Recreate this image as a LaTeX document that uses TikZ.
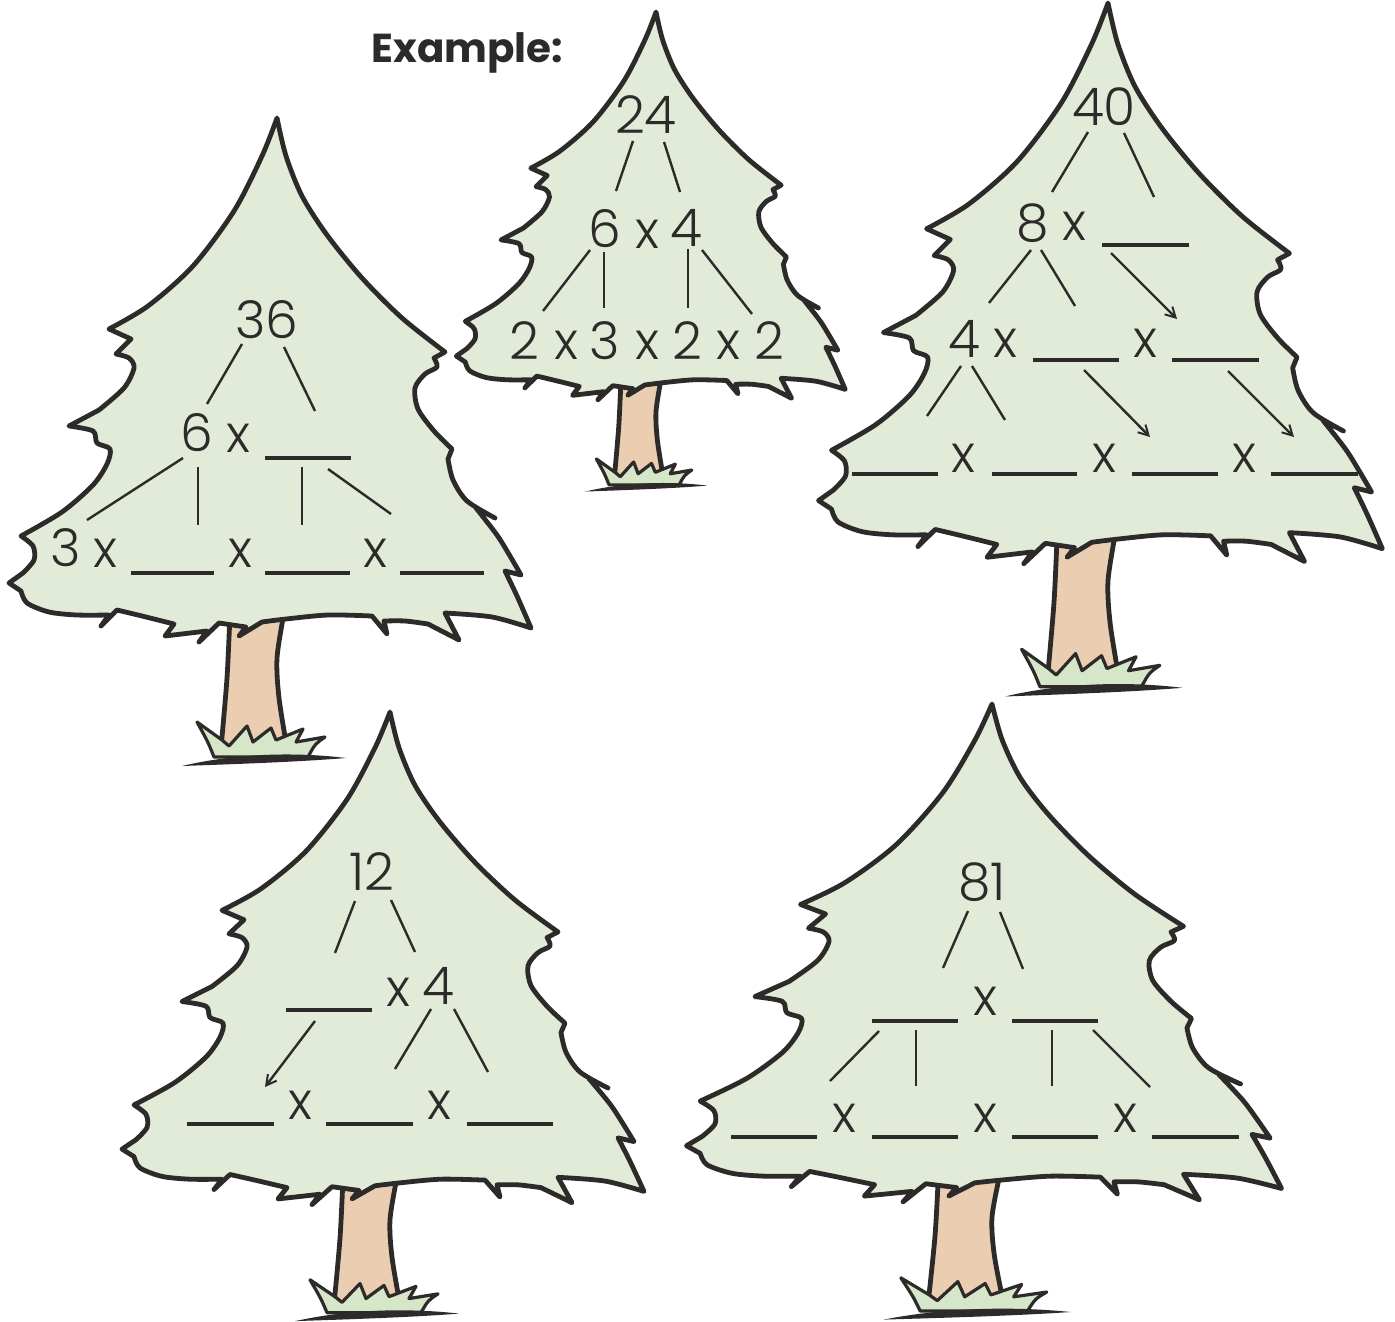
\documentclass[tikz,border=0pt]{standalone}
\usepackage{fontspec}
\usetikzlibrary{arrows.meta}
\IfFontExistsTF{Poppins Light}{\newfontfamily\figfont{Poppins Light}}{\newfontfamily\figfont{Poppins}}
\newfontfamily\headfont{Poppins}

\definecolor{ink}{RGB}{45,42,42}
\definecolor{needles}{RGB}{225,235,216}
\definecolor{bark}{RGB}{235,206,177}
\definecolor{turf}{RGB}{214,230,201}

\tikzset{
  outline/.style={draw=ink, line width=2.4pt, line join=round, line cap=round},
  fig/.style={font=\figfont\fontsize{26}{30}\selectfont, text=ink, inner sep=0pt},
  branch/.style={draw=ink, line width=1.2pt},
  pointer/.style={branch, -{Straight Barb[length=5pt,width=5.5pt,line width=1pt]}},
  blankline/.style={draw=ink, line width=1.6pt},
}

% crown of a fir, apex at the origin (units: one pixel of the 36-tree)
\newcommand\crownoutline{
plot[smooth] coordinates {(0,0) (9,38) (25,78) (50,117) (85,160) (125,200) (168,234)}
-- (157,240)
-- plot[smooth] coordinates {(157,240) (160,249) (148,256) (138,270) (141,291) (157,313) (175,331)}
-- (171,341)
-- plot[smooth] coordinates {(171,341) (176,362) (190,383) (218,400)}
-- (199,390)
-- plot[smooth] coordinates {(199,390) (220,417) (233,438) (244,457)}
-- (228,453)
-- plot[smooth] coordinates {(228,453) (240,478) (254,510)}
-- plot[smooth] coordinates {(254,510) (215,499) (168,495)}
-- (182,522) -- (151,506)
-- plot[smooth] coordinates {(151,506) (128,503) (107,503)}
-- (110,516) -- (95,498)
-- plot[smooth] coordinates {(95,498) (51,497) (9,501) (-15,504)}
-- (-38,518) -- (-31,509) -- (-58,505) -- (-78,524) -- (-70,513) -- (-112,518) -- (-103,506)
-- plot[smooth] coordinates {(-103,506) (-135,498) (-160,492)}
-- (-176,508) -- (-168,497)
-- plot[smooth] coordinates {(-168,497) (-200,497) (-228,494) (-250,485) (-256,473)}
-- (-268,465) -- (-254,455)
-- plot[smooth] coordinates {(-254,455) (-243,442) (-244,428) (-256,418)}
-- plot[smooth] coordinates {(-256,418) (-215,394) (-184,367) (-170,346) (-167,331) (-180,325) (-184,313) (-208,308)}
-- (-178,292)
-- plot[smooth] coordinates {(-178,292) (-153,270) (-143,250) (-148,240) (-161,236)}
-- (-146,221) -- (-168,211)
-- plot[smooth] coordinates {(-168,211) (-129,188) (-84,148) (-43,93) (-15,38) (0,0)}
-- cycle}

% a whole tree: apex x, apex y, horizontal and vertical scale
\newcommand\fir[4]{%
\begin{scope}[shift={(#1,#2)},xscale=#3,yscale=#4]
  \fill[bark] plot[smooth] coordinates {(-47,495) (-50,560) (-56,632)}
     -- plot[smooth] coordinates {(10,632) (2,580) (0,540) (7,495)} -- cycle;
  \draw[outline] plot[smooth] coordinates {(-47,495) (-50,560) (-56,630)};
  \draw[outline] plot[smooth] coordinates {(10,630) (2,580) (0,540) (7,495)};
  \filldraw[outline, fill=needles] \crownoutline;
  \filldraw[outline, fill=turf, line width=1.6pt]
     (-63,639) .. controls (-69,624) .. (-80,604) -- (-55,622) -- (-48,628) -- (-30,608)
     -- (-24,624) -- (-6,610) -- (-1,622) -- (26,611) -- (19,624) -- (48,619)
     .. controls (38,626) .. (31,639) -- cycle;
  \fill[ink] (-95,648) .. controls (-40,635) and (20,634) .. (69,640)
     .. controls (20,644) and (-40,646) .. cycle;
\end{scope}}

\newcommand\seg[3]{\coordinate (#1-a) at (#2); \coordinate (#1-b) at (#3); \draw[branch] (#1-a) -- (#1-b);}
\newcommand\arr[3]{\coordinate (#1-a) at (#2); \coordinate (#1-b) at (#3); \draw[pointer] (#1-a) -- (#1-b);}
\newcommand\gap[3]{\draw[blankline] (#1,#3) -- (#2,#3);}

\begin{document}
\begin{tikzpicture}[x=0.5pt,y=-0.5pt]
\useasboundingbox (0,0) rectangle (1395,1321);
\fill[white] (0,0) rectangle (1395,1321);

\fir{656}{12}{0.745}{0.74}
\fir{277}{118}{1}{1}
\fir{1108}{3}{1.08}{1.07}
\fir{390}{712}{1}{0.94}
\fir{992}{704}{1.14}{0.95}

\node[font=\headfont\bfseries\fontsize{20.2}{24}\selectfont, text=ink, anchor=base west, inner sep=0pt] (example) at (371,63) {Example:};

% worked example: 24
\node[fig] (a24) at (646,115) {24};
\seg{a1}{633,141}{616,191}
\seg{a2}{664,142}{680,192}
\node[fig] (a6) at (605,229) {6};
\node[fig] (ax1) at (647,234) {x};
\node[fig] (a4) at (686,228) {4};
\seg{a3}{590,250}{543,311}
\seg{a4}{604,252}{604,308}
\seg{a5}{688,249}{688,308}
\seg{a6}{702,250}{752,314}
\node[fig] (ab1) at (524,341) {2};
\node[fig] (ax2) at (566,345) {x};
\node[fig] (ab2) at (605,341) {3};
\node[fig] (ax3) at (647,345) {x};
\node[fig] (ab3) at (687,341) {2};
\node[fig] (ax4) at (728,345) {x};
\node[fig] (ab4) at (769,341) {2};

% 36
\node[fig] (b36) at (267,320) {36};
\seg{b1}{242,344}{207,404}
\seg{b2}{284,347}{315,411}
\node[fig] (b6) at (197,433) {6};
\node[fig] (bx1) at (238,438) {x};
\gap{265}{351}{458}
\seg{b3}{183,458}{87,520}
\seg{b4}{198,467}{198,525}
\seg{b5}{302,467}{302,525}
\seg{b6}{328,469}{391,514}
\node[fig] (b3) at (66,548) {3};
\node[fig] (bx2) at (105,553) {x};
\gap{131}{214}{573}
\node[fig] (bx3) at (240,553) {x};
\gap{265}{350}{573}
\node[fig] (bx4) at (375,553) {x};
\gap{400}{484}{573}

% 40
\node[fig] (c40) at (1104,107) {40};
\seg{c1}{1088,132}{1052,192}
\seg{c2}{1124,133}{1154,197}
\node[fig] (c8) at (1033,223) {8};
\node[fig] (cx1) at (1074,226) {x};
\gap{1102}{1189}{245}
\seg{c3}{1031,250}{989,303}
\seg{c4}{1041,250}{1075,306}
\arr{c5}{1111,253}{1177,319}
\node[fig] (c4) at (964,339) {4};
\node[fig] (cx2) at (1005,343) {x};
\gap{1033}{1119}{360}
\node[fig] (cx3) at (1145,343) {x};
\gap{1172}{1259}{360}
\seg{c6}{961,366}{927,416}
\seg{c7}{972,366}{1005,420}
\arr{c8}{1084,370}{1150,437}
\arr{c9}{1228,371}{1294,437}
\gap{852}{938}{474}
\node[fig] (cx4) at (963,458) {x};
\gap{992}{1077}{474}
\node[fig] (cx5) at (1104,458) {x};
\gap{1132}{1218}{474}
\node[fig] (cx6) at (1244,458) {x};
\gap{1271}{1358}{474}

% 12
\node[fig] (d12) at (372,872) {12};
\seg{d1}{355,901}{335,953}
\seg{d2}{391,900}{415,952}
\gap{286}{372}{1010}
\node[fig] (dx1) at (398,992) {x};
\node[fig] (d4) at (438,986) {4};
\arr{d3}{315,1021}{265,1087}
\seg{d4}{431,1009}{395,1069}
\seg{d5}{454,1009}{488,1072}
\gap{187}{274}{1124}
\node[fig] (dx2) at (300,1105) {x};
\gap{326}{413}{1124}
\node[fig] (dx3) at (439,1105) {x};
\gap{467}{553}{1124}

% 81
\node[fig] (e81) at (982,882) {81};
\seg{e1}{968,911}{943,968}
\seg{e2}{1000,912}{1023,969}
\gap{872}{958}{1021}
\node[fig] (ex1) at (985,1001) {x};
\gap{1012}{1098}{1021}
\seg{e3}{879,1031}{830,1081}
\seg{e4}{916,1030}{916,1086}
\seg{e5}{1052,1030}{1052,1086}
\seg{e6}{1093,1030}{1150,1087}
\gap{731}{817}{1137}
\node[fig] (ex2) at (844,1118) {x};
\gap{872}{958}{1137}
\node[fig] (ex3) at (985,1118) {x};
\gap{1012}{1098}{1137}
\node[fig] (ex4) at (1125,1118) {x};
\gap{1152}{1239}{1137}
\end{tikzpicture}
\end{document}
